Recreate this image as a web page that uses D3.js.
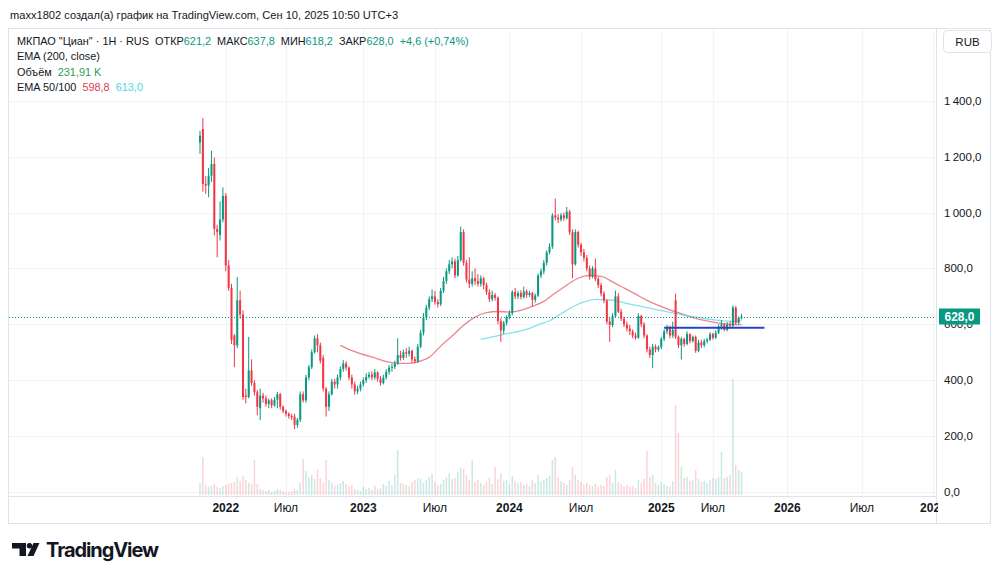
<!DOCTYPE html>
<html><head><meta charset="utf-8">
<script src="https://cdn.jsdelivr.net/npm/d3@7"></script>
<style>
html,body{margin:0;padding:0;background:#fff;}
svg{display:block;font-family:"Liberation Sans",Arial,sans-serif;}
</style></head><body>
<svg id="c" width="1000" height="578"></svg>
<script>
// ---- weekly candles ----
const opens = [1251,1299,1102,1097,1132,1174,942,920,975,1060,811,730,560,525,686,635,345,340,435,390,357,300,345,335,315,328,310,330,350,305,290,280,272,270,240,258,350,328,410,447,500,550,525,480,370,305,350,395,
385,410,440,460,445,410,385,360,370,385,400,412,420,410,428,405,390,410,430,445,448,460,490,480,500,495,505,475,468,520,570,625,660,690,700,680,672,720,755,790,815,825,775,830,930,820,760,745,765,
755,745,765,740,715,690,705,695,612,578,605,625,640,716,700,712,698,718,705,712,688,703,775,790,820,858,878,990,982,975,990,980,1003,930,815,930,885,858,838,800,770,800,762,740,710,685,610,598,
630,700,645,620,600,585,575,560,552,630,600,560,510,490,520,510,518,548,575,590,560,686,555,525,548,530,565,540,555,505,535,525,540,545,565,552,570,592,600,580,600,595,660,605,621.2];
const highs = [1293,1338,1130,1160,1221,1197,955,1040,1090,1070,830,745,565,769,721,650,370,555,475,400,365,370,355,345,335,335,340,358,355,310,295,285,280,280,265,360,360,420,455,510,560,565,535,490,375,360,405,405,
420,450,472,468,450,420,395,380,395,410,425,430,432,440,432,415,420,440,455,460,470,550,505,510,515,520,510,485,530,580,640,670,700,725,720,690,730,770,800,830,840,835,845,950,940,830,840,790,800,
780,775,770,750,725,720,712,700,622,612,632,650,722,730,720,722,735,725,720,716,710,782,800,830,865,890,998,1050,995,998,1000,1020,1010,940,940,935,892,870,848,810,808,835,770,748,718,690,625,640,
721,712,655,628,610,598,582,570,640,635,608,565,520,530,528,525,555,582,598,595,610,710,560,555,552,575,568,560,560,545,545,548,552,572,570,578,600,615,605,608,610,668,665,628,637.8];
const lows = [1210,1075,1067,1055,1110,918,840,900,965,790,720,530,447,515,620,330,317,335,380,345,275,257,320,305,300,300,305,300,295,282,270,262,258,225,230,250,320,320,400,440,495,500,460,360,270,290,345,370,
370,400,430,435,400,370,348,350,360,378,390,405,400,402,395,380,385,402,420,430,440,455,470,472,480,485,462,460,462,515,560,615,650,680,670,660,665,712,745,780,800,765,770,825,810,750,730,735,740,
735,735,725,705,680,682,685,600,537,565,595,618,632,690,690,690,692,695,698,665,678,698,765,780,810,850,870,972,962,968,970,975,920,765,810,875,845,825,790,760,765,755,730,700,676,600,537,590,
625,640,612,590,575,562,550,545,548,590,550,500,480,443,500,502,512,540,565,550,552,548,515,474,520,525,532,535,498,500,515,518,532,540,545,548,565,580,575,575,585,590,598,600,618.2];
const closes = [1275,1102,1097,1132,1174,942,930,975,1060,811,730,545,525,686,635,340,340,435,390,357,305,345,335,315,328,310,330,350,305,290,280,272,268,240,258,350,328,410,447,500,550,525,470,370,305,350,395,385,
410,440,460,445,410,385,360,370,385,400,412,420,410,428,405,390,410,430,445,448,460,490,480,500,495,505,475,468,520,570,625,660,690,700,680,672,720,755,790,815,825,775,830,930,820,760,745,765,755,
745,765,740,715,690,705,695,612,578,605,625,640,716,700,712,698,718,705,712,688,703,775,790,820,858,878,990,982,975,990,980,1003,930,815,930,885,858,838,800,770,800,762,740,710,685,610,598,630,
700,645,620,600,585,575,560,552,630,600,560,510,490,520,510,518,548,575,590,560,580,555,525,548,530,565,540,555,505,535,525,540,545,565,552,570,592,600,580,600,595,660,605,623.4,628.0];
// volume, thousands of shares
const volume = [120,380,100,80,90,110,80,70,90,100,110,120,130,180,140,190,150,120,110,350,110,60,50,40,50,30,40,60,50,40,30,30,40,60,50,120,360,240,180,200,160,260,170,120,350,150,120,90,
100,120,140,110,90,100,60,50,40,80,60,70,50,90,60,70,110,90,140,100,200,450,120,110,100,90,130,150,170,160,120,150,180,210,130,100,110,150,180,220,160,170,230,270,260,200,150,350,130,
150,120,100,130,170,110,280,160,220,140,150,110,190,140,120,130,100,110,90,150,120,200,140,150,170,190,350,380,180,140,120,100,150,280,200,150,130,110,120,100,90,110,80,100,90,180,200,120,
250,130,110,90,100,80,90,70,150,120,160,440,180,200,120,100,130,110,90,80,140,900,620,280,170,180,140,150,250,160,130,140,120,150,170,160,180,430,170,180,200,1160,300,250,231.91];
// EMA lines: [bar index, value]
const ema50 = [[49,525],[54,502],[61,480],[67,463],[72,460],[76,466],[80,482],[84,522],[88,558],[92,597],[96,626],[100,642],[104,646],[108,644],[112,650],[116,664],[120,682],[124,712],[128,740],[132,765],[136,775],[140,772],[144,752],[148,730],[152,708],[156,686],[160,668],[164,652],[168,638],[172,624],[176,614],[180,606],[184,601],[189,598.8]];
const ema100 = [[98,546],[102,555],[106,564],[110,572],[114,582],[118,598],[122,613],[126,638],[130,662],[134,680],[138,689],[142,688],[146,682],[150,672],[154,664],[158,655],[162,647],[166,639],[170,631],[174,625],[178,618],[182,613],[186,611],[189,613]];
// horizontal level drawn by the author
const levelBars = [162, 197];
const levelValue = 588;
// axes
const priceTicks = [0,200,400,600,800,1000,1200,1400];
const timeTickBars = [9,30,57,82,108,133,161,179,205,231,256];
const timeTickLabels = ["2022","Июл","2023","Июл","2024","Июл","2025","Июл","2026","Июл","2027"];

// ---- layout ----
const GREEN="#089981", RED="#f23645", TEXT="#131722", GRID="#f0f3fa", BORDER="#e0e3eb";
const paneL=9, paneR=936, paneT=28, paneB=496;
const svg = d3.select("#c");
const n = closes.length;
const x = d3.scaleLinear().domain([0, n-1]).range([200, 741.5]);
const y = d3.scaleLinear().domain([0, 1400]).range([492, 100.8]);
const yv = d3.scaleLinear().domain([0, d3.max(volume)]).range([495, 379]);
const loc = d3.formatLocale({decimal:",", thousands:"\u2009", grouping:[3], currency:["",""]});
const f1 = loc.format(",.1f"), f2 = loc.format(".2f"), fs1 = loc.format("+.1f"), fs2 = loc.format("+.2f");

svg.append("defs").append("clipPath").attr("id","pane")
  .append("rect").attr("x",paneL).attr("y",paneT).attr("width",paneR-paneL).attr("height",paneB-paneT);
svg.select("defs").append("clipPath").attr("id","taxis")
  .append("rect").attr("x",paneL).attr("y",paneB).attr("width",938-paneL).attr("height",30);

// grid
const g = svg.append("g");
g.selectAll(".hg").data(priceTicks).join("line")
  .attr("x1",paneL).attr("x2",paneR).attr("y1",d=>Math.round(y(d))+0.5).attr("y2",d=>Math.round(y(d))+0.5)
  .attr("stroke",GRID);
g.selectAll(".vg").data(timeTickBars).join("line")
  .attr("x1",d=>Math.round(x(d))+0.5).attr("x2",d=>Math.round(x(d))+0.5).attr("y1",paneT).attr("y2",paneB)
  .attr("stroke",GRID);

// frame
svg.append("rect").attr("x",paneL-0.5).attr("y",paneT+0.5).attr("width",991-paneL).attr("height",523-paneT)
  .attr("fill","none").attr("stroke",BORDER);
svg.append("line").attr("x1",paneR+0.5).attr("x2",paneR+0.5).attr("y1",paneT).attr("y2",523).attr("stroke",BORDER);
svg.append("line").attr("x1",paneL).attr("x2",paneR).attr("y1",paneB+0.5).attr("y2",paneB+0.5).attr("stroke",BORDER);

const plot = svg.append("g").attr("clip-path","url(#pane)");
const idx = d3.range(n);

// volume
plot.selectAll(".vol").data(idx).join("rect")
  .attr("x",i=>x(i)-0.75).attr("width",1.5)
  .attr("y",i=>yv(volume[i])).attr("height",i=>yv(0)-yv(volume[i]))
  .attr("fill",i=>closes[i]>=opens[i]?"rgba(8,153,129,0.22)":"rgba(242,54,69,0.22)");

// EMA lines
const ln = d3.line().x(d=>x(d[0])).y(d=>y(d[1])).curve(d3.curveMonotoneX);
plot.append("path").attr("d",ln(ema50)).attr("fill","none").attr("stroke","rgba(229,92,100,0.75)").attr("stroke-width",1.3);
plot.append("path").attr("d",ln(ema100)).attr("fill","none").attr("stroke","rgba(80,215,230,0.7)").attr("stroke-width",1.3);

// candles
const cg = plot.selectAll(".cd").data(idx).join("g");
cg.append("line")
  .attr("x1",i=>x(i)).attr("x2",i=>x(i))
  .attr("y1",i=>y(highs[i])).attr("y2",i=>y(lows[i]))
  .attr("stroke",i=>closes[i]>=opens[i]?GREEN:RED).attr("stroke-width",1);
cg.append("rect")
  .attr("x",i=>x(i)-1).attr("width",2)
  .attr("y",i=>y(Math.max(opens[i],closes[i])))
  .attr("height",i=>Math.max(1,Math.abs(y(opens[i])-y(closes[i]))))
  .attr("fill",i=>closes[i]>=opens[i]?GREEN:RED);

// level line
plot.append("line").attr("x1",x(levelBars[0])).attr("x2",x(levelBars[1]))
  .attr("y1",y(levelValue)).attr("y2",y(levelValue)).attr("stroke","#2442cc").attr("stroke-width",2);

// last price dotted line
const last = closes[n-1];
svg.append("line").attr("x1",paneL).attr("x2",paneR).attr("y1",Math.round(y(last))+0.5).attr("y2",Math.round(y(last))+0.5)
  .attr("stroke",GREEN).attr("stroke-dasharray","1 2");

// price axis labels
svg.selectAll(".pl").data(priceTicks).join("text")
  .attr("x",944).attr("y",d=>y(d)).attr("dy","0.35em")
  .attr("font-size",11.5).attr("fill",TEXT).text(d=>f1(d));
// last price tag
svg.append("rect").attr("x",939).attr("y",y(last)-8).attr("width",41).attr("height",16).attr("fill",GREEN);
svg.append("text").attr("x",959.5).attr("y",y(last)).attr("dy","0.35em").attr("text-anchor","middle")
  .attr("font-size",12).attr("font-weight","bold").attr("fill","#fff").text(f1(last));
// RUB box
svg.append("rect").attr("x",943.5).attr("y",30.5).attr("width",48).attr("height",22).attr("rx",4)
  .attr("fill","#fff").attr("stroke",BORDER);
svg.append("text").attr("x",967.5).attr("y",41.5).attr("dy","0.35em").attr("text-anchor","middle")
  .attr("font-size",11.5).attr("fill",TEXT).text("RUB");

// time axis labels
svg.append("g").attr("clip-path","url(#taxis)").selectAll("text").data(timeTickBars).join("text")
  .attr("x",d=>x(d)).attr("y",508).attr("dy","0.35em").attr("text-anchor","middle")
  .attr("font-size",12).attr("fill",TEXT)
  .attr("font-weight",(d,i)=>/^\d+$/.test(timeTickLabels[i])?"bold":"normal")
  .text((d,i)=>timeTickLabels[i]);

// header
svg.append("text").attr("x",10).attr("y",19).attr("font-size",11.1).attr("fill",TEXT)
  .text("maxx1802 создал(а) график на TradingView.com, Сен 10, 2025 10:50 UTC+3");

// legend
function legendLine(yy, parts){
  const t = svg.append("text").attr("x",17).attr("y",yy).attr("font-size",10.9).style("white-space","pre");
  parts.forEach(p=>t.append("tspan").attr("fill",p[1]).text(p[0]));
}
const chg = closes[n-1]-closes[n-2], pct = chg/closes[n-2]*100;
legendLine(44.5,[["МКПАО \"Циан\" · 1Н · RUS  ОТКР",TEXT],[f1(opens[n-1]),GREEN],["  МАКС",TEXT],[f1(highs[n-1]),GREEN],
  ["  МИН",TEXT],[f1(lows[n-1]),GREEN],["  ЗАКР",TEXT],[f1(last),GREEN],["  "+fs1(chg)+" ("+fs2(pct)+"%)",GREEN]]);
legendLine(60,[["EMA (200, close)",TEXT]]);
legendLine(75.5,[["Объём  ",TEXT],[f2(volume[n-1])+" K","#2e9d55"]]);
legendLine(91,[["EMA 50/100  ",TEXT],[f1(ema50[ema50.length-1][1])+"  ","#e03c48"],[f1(ema100[ema100.length-1][1]),"#4dd6e6"]]);

// TradingView logo
const lg = svg.append("g").attr("fill",TEXT);
lg.append("path").attr("d","M12,543 H26 V556 H19.5 V548.5 H12 Z");
lg.append("circle").attr("cx",29.5).attr("cy",545.8).attr("r",2.7);
lg.append("path").attr("d","M33.5,543 H39.5 L33.5,556 H27.5 Z");
svg.append("text").attr("x",46).attr("y",557).attr("font-size",20).attr("font-weight","bold")
  .attr("font-family","Inter, Roboto, sans-serif").attr("fill",TEXT).attr("textLength",113).text("TradingView");
</script>
</body></html>
